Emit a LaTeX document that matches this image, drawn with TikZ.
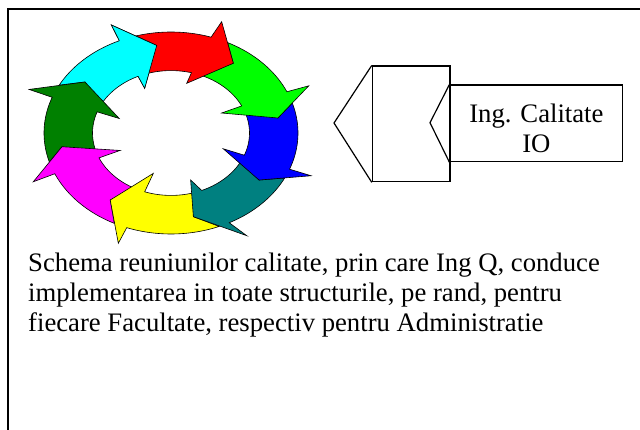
\documentclass[tikz,border=0pt]{standalone}
\usepackage{fontspec}
\setmainfont{Liberation Serif}
\definecolor{ringred}{RGB}{255,0,0}
\definecolor{ringlime}{RGB}{0,255,0}
\definecolor{ringblue}{RGB}{0,0,255}
\definecolor{ringteal}{RGB}{0,128,128}
\definecolor{ringyellow}{RGB}{255,255,0}
\definecolor{ringmagenta}{RGB}{255,0,255}
\definecolor{ringgreen}{RGB}{0,128,0}
\definecolor{ringcyan}{RGB}{0,255,255}
\tikzset{
  ringpart/.style={draw=black, line width=0.6pt, fill=#1},
  boxpart/.style={draw=black, line width=1.2pt, fill=white, inner sep=0pt}
}
\newcommand{\bigtext}{\fontsize{26.7pt}{30pt}\selectfont}

\begin{document}
\begin{tikzpicture}[x=1pt,y=-1pt]
\useasboundingbox (0,0) rectangle (640,430);
\fill[white] (0,0) rectangle (640,430);
\draw[line width=1.6pt] (8,460) -- (8,9.3) -- (660,9.3);

% ring of eight arrows
\begin{scope}[shift={(171,133)},x=127pt,y=101pt]
  \draw[ringpart=ringcyan] plot[domain=151.7:114.0,samples=25] (\x:1) -- (113.7:1.168) -- (97.4:.874) -- (115.1:.489) -- (114.8:.618) -- plot[domain=114.8:154.5,samples=25] (\x:.618) -- (143.3:.845) -- cycle;
  \draw[ringpart=ringgreen] plot[domain=-163.3:-200.7,samples=25] (\x:1) -- (-201.1:1.198) -- (-216.7:.845) -- (-199.4:.432) -- (-199.8:.618) -- plot[domain=-199.8:-161.3,samples=25] (\x:.618) -- (-171:.869) -- cycle;
  \draw[ringpart=ringmagenta] plot[domain=-116.5:-156.2,samples=25] (\x:1) -- (-156:1.187) -- (-171:.869) -- (-156.7:.437) -- (-156.5:.618) -- plot[domain=-156.5:-115.7,samples=25] (\x:.618) -- (-125.8:.818) -- cycle;
  \draw[ringpart=ringyellow] plot[domain=-67.7:-110.4,samples=25] (\x:1) -- (-110.8:1.168) -- (-125.8:.818) -- (-109.2:.423) -- (-109.6:.618) -- plot[domain=-109.6:-73.3,samples=25] (\x:.618) -- (-78:.847) -- cycle;
  \draw[ringpart=ringteal] plot[domain=-26.5:-62.7,samples=25] (\x:1) -- (-59.6:1.179) -- (-78:.847) -- (-71.6:.49) -- (-67:.618) -- plot[domain=-67:-25.4,samples=25] (\x:.618) -- (-33.9:.835) -- cycle;
  \draw[ringpart=ringblue] plot[domain=17.3:-21,samples=25] (\x:1) -- (-21:1.181) -- (-33.9:.835) -- (-20.8:.44) -- (-20.85:.618) -- plot[domain=-20.85:21.1,samples=25] (\x:.618) -- (10:.855) -- cycle;
  \draw[ringpart=ringlime] plot[domain=63.5:24.1,samples=25] (\x:1) -- (23.3:1.181) -- (10:.855) -- (26.4:.445) -- (25.7:.618) -- plot[domain=25.7:71.1,samples=25] (\x:.618) -- (54.6:.847) -- cycle;
  \draw[ringpart=ringred] plot[domain=106:71.6,samples=25] (\x:1) -- (70.1:1.172) -- (54.6:.847) -- (75.9:.507) -- (74.9:.618) -- plot[domain=74.9:110.9,samples=25] (\x:.618) -- (97.4:.874) -- cycle;
  % cyan head again, over the red tail
  \fill[ringcyan] (114.0:1) -- (113.7:1.168) -- (97.4:.874) -- (115.1:.489) -- (114.8:.618) -- cycle;
  \draw[line width=0.6pt] (114.0:1) -- (113.7:1.168) -- (97.4:.874) -- (115.1:.489) -- (114.8:.618);
\end{scope}

\node[boxpart, minimum width=77.7pt, minimum height=115.7pt] (plate) at (411.2,123.9) {};
\coordinate (platetip) at (334,123);
\draw[line width=1.2pt] (plate.north west) -- (platetip) -- (plate.south west);
\node[boxpart, minimum width=172.7pt, minimum height=76.7pt] (iobox) at (536.4,123.4) {};
\node[align=center, inner sep=0pt, font=\bigtext] (iotext) at ([yshift=-4.5pt]iobox.center) {Ing. Calitate\\IO};
\coordinate (notch) at (430,122.7);
\draw[line width=1.2pt] (iobox.north west) -- (notch) -- (iobox.south west);

\node[anchor=base west, align=left, inner sep=0pt, font=\bigtext] (caption) at (28,331.7) {Schema reuniunilor calitate, prin care Ing Q, conduce\\implementarea in toate structurile, pe rand, pentru\\fiecare Facultate, respectiv pentru Administratie};
\end{tikzpicture}
\end{document}
